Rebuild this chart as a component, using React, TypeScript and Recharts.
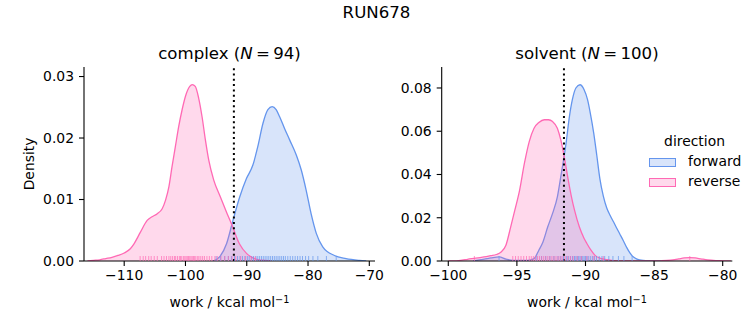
import React from 'react';
import { ComposedChart, Area, Scatter, XAxis, YAxis, ReferenceLine } from 'recharts';

const FONT = "'DejaVu Sans', sans-serif";
const BLUE = '#6495ED';
const PINK = '#FF69B4';

// ---- complex panel ----
const complexFwdX = [-95.5, -94.4, -93.3, -92.25, -91.15, -90.05, -89, -88.2, -87.35, -86.55, -85.85, -85.2, -84.65, -83.85, -83, -81.9, -81.1, -80.3, -79.5, -78.65, -77.6, -75.7, -73.8, -71.6, -70.5];
const complexFwdY = [0, 0.0007, 0.0028, 0.0066, 0.0104, 0.0134, 0.0156, 0.0186, 0.0224, 0.0246, 0.0251, 0.0246, 0.0235, 0.0216, 0.0197, 0.0172, 0.0148, 0.0115, 0.0077, 0.0045, 0.0023, 0.0009, 0.0004, 0.0001, 0];
const complexRevX = [-116, -115, -114, -113, -112, -111, -110, -109, -108.4, -107.35, -106.25, -105.45, -104.6, -103.8, -103.25, -102.7, -102.2, -101.65, -101.1, -100.55, -100, -99.3, -98.9, -98.4, -97.85, -97.3, -96.75, -96.2, -95.4, -94.3, -93.2, -92.4, -91.2, -90, -89, -88, -87, -86];
const complexRevY = [0, 0.0001, 0.0002, 0.0004, 0.0006, 0.0009, 0.0013, 0.002, 0.0028, 0.0047, 0.0066, 0.0072, 0.0077, 0.0085, 0.0099, 0.0121, 0.0153, 0.0186, 0.0219, 0.0246, 0.0268, 0.0284, 0.0287, 0.0284, 0.0265, 0.0235, 0.0197, 0.0164, 0.0132, 0.0104, 0.0077, 0.0058, 0.0028, 0.0012, 0.0005, 0.0002, 0.0001, 0];
const complexFwdRug = [-95.0, -94.3, -93.6, -93.0, -92.5, -92.0, -91.5, -91.1, -90.7, -90.3, -89.9, -89.6, -89.2, -88.9, -88.5, -88.2, -87.9, -87.6, -87.3, -87.0, -86.7, -86.4, -86.1, -85.8, -85.5, -85.2, -84.9, -84.6, -84.3, -84.0, -83.7, -83.3, -82.9, -82.5, -82.1, -81.7, -81.3, -80.9, -80.4, -79.9, -79.2, -78.4, -77.0, -75.4];
const complexRevRug = [-107.4, -106.9, -106.5, -106.0, -105.6, -105.1, -104.6, -103.9, -103.5, -103.1, -102.7, -102.4, -102.1, -101.8, -101.6, -101.3, -101.0, -100.8, -100.6, -100.3, -100.1, -99.9, -99.7, -99.5, -99.3, -99.1, -98.9, -98.7, -98.5, -98.3, -98.0, -97.8, -97.5, -97.2, -96.9, -96.5, -96.1, -95.7, -95.2, -94.8, -94.2, -93.6, -93.0, -92.4, -91.8, -91.0, -90.2, -89.3, -88.6];
const complexXTicks = [-110, -100, -90, -80, -70];
const complexYTicks = [0, 0.01, 0.02, 0.03];
const complexMean = -92.1;

// ---- solvent panel ----
const solventFwdX = [-98.2, -97.6, -96.9, -96.3, -95.8, -95.3, -94.2, -93.75, -93.4, -93.1, -92.75, -92.4, -92.05, -91.8, -91.6, -91.4, -91.2, -90.95, -90.7, -90.4, -90.1, -89.85, -89.65, -89.4, -89.18, -88.95, -88.7, -88.45, -88.2, -87.95, -87.75, -87.5, -87.25, -87.0, -86.75, -86.5, -86.25, -85.8, -85.2, -84.5];
const solventFwdY = [0, 0.0006, 0.0014, 0.0019, 0.0009, 0.0003, 0.0003, 0.0011, 0.005, 0.0088, 0.0158, 0.022, 0.0297, 0.039, 0.0467, 0.0552, 0.0655, 0.0748, 0.08, 0.0815, 0.0792, 0.0746, 0.0684, 0.0591, 0.049, 0.038, 0.03, 0.0245, 0.021, 0.018, 0.0155, 0.0125, 0.0095, 0.0063, 0.0036, 0.0018, 0.0009, 0.0003, 0.0001, 0];
const solventRevX = [-100, -99.6, -99.0, -98.6, -98.0, -97.4, -96.9, -96.5, -96.15, -95.8, -95.45, -95.15, -94.8, -94.45, -94.1, -93.75, -93.4, -93.0, -92.7, -92.4, -92.05, -91.8, -91.55, -91.3, -91.05, -90.8, -90.45, -90.1, -89.9, -89.6, -89.3, -88.9, -88.45, -88.0, -87, -86, -85, -84.5, -83.8, -83.2, -82.8, -82.4, -82.0, -81.6, -81.1, -80.5, -80, -79.4];
const solventRevY = [0, 0, 0.0004, 0.0008, 0.0013, 0.0019, 0.0025, 0.003, 0.0042, 0.0073, 0.0158, 0.0235, 0.0328, 0.0452, 0.0552, 0.0614, 0.064, 0.0653, 0.0653, 0.0645, 0.0614, 0.056, 0.0483, 0.039, 0.0305, 0.0235, 0.0158, 0.0104, 0.0081, 0.005, 0.0026, 0.0012, 0.0006, 0.0002, 0, 0, 0, 0.0001, 0.0004, 0.001, 0.0014, 0.0016, 0.0014, 0.001, 0.0005, 0.0002, 0.0001, 0];
const solventFwdRug = [-96.3, -93.6, -93.2, -92.9, -92.6, -92.3, -92.0, -91.8, -91.6, -91.4, -91.25, -91.1, -90.95, -90.8, -90.7, -90.6, -90.5, -90.4, -90.3, -90.2, -90.1, -90.0, -89.9, -89.8, -89.65, -89.5, -89.35, -89.2, -89.0, -88.8, -88.6, -88.3, -88.0, -87.6, -87.2, -86.6];
const solventRevRug = [-98.1, -95.3, -95.1, -94.9, -94.7, -94.5, -94.3, -94.1, -93.95, -93.8, -93.65, -93.5, -93.35, -93.2, -93.05, -92.9, -92.75, -92.6, -92.45, -92.3, -92.15, -92.0, -91.85, -91.7, -91.5, -91.3, -91.1, -90.9, -90.6, -90.3, -89.9, -89.4, -88.7, -82.4];
const solventXTicks = [-100, -95, -90, -85, -80];
const solventYTicks = [0, 0.02, 0.04, 0.06, 0.08];
const solventMean = -91.57;

function mergeTable(fx: number[], fy: number[], rx: number[], ry: number[]) {
  const map = new Map<number, any>();
  fx.forEach((x, i) => { const r = map.get(x) || { x }; r.fwd = fy[i]; map.set(x, r); });
  rx.forEach((x, i) => { const r = map.get(x) || { x }; r.rev = ry[i]; map.set(x, r); });
  return Array.from(map.values()).sort((a, b) => a.x - b.x);
}
const rugData = (vals: number[]) => vals.map((v) => ({ x: v, y: 0 }));

const fmtX = (v: number) => String(v).replace('-', '\u2212');
const fmtY = (v: number) => v.toFixed(2);

const makeRug = (color: string) => (props: any) => {
  const { cx, cy } = props;
  if (cx == null || cy == null) return <g />;
  return <line x1={cx} x2={cx} y1={cy} y2={cy - 5} stroke={color} strokeWidth={1} strokeOpacity={0.7} />;
};

const tickStyle = { fill: '#000', fontSize: 13.9, fontFamily: FONT };

function Panel(props: {
  table: any[]; fwdRug: number[]; revRug: number[]; xDomain: [number, number]; yMax: number;
  xTicks: number[]; yTicks: number[]; mean: number; width: number; margin: any;
}) {
  const { table, fwdRug, revRug, xDomain, yMax, xTicks, yTicks, mean, width, margin } = props;
  return (
    <ComposedChart width={width} height={325} data={table} margin={margin}>
      <XAxis type="number" dataKey="x" domain={xDomain} allowDataOverflow ticks={xTicks}
        tickFormatter={fmtX} tick={tickStyle} tickSize={5} tickMargin={4} height={30}
        axisLine={{ stroke: '#000', strokeWidth: 1.1 }} tickLine={{ stroke: '#000', strokeWidth: 1.1 }} />
      <YAxis type="number" domain={[0, yMax]} allowDataOverflow ticks={yTicks} tickFormatter={fmtY}
        tick={tickStyle} tickSize={5} tickMargin={5} width={50}
        axisLine={{ stroke: '#000', strokeWidth: 1.1 }} tickLine={{ stroke: '#000', strokeWidth: 1.1 }} />
      <Area type="monotone" dataKey="fwd" connectNulls isAnimationActive={false} stroke={BLUE} strokeWidth={1.3}
        fill={BLUE} fillOpacity={0.25} dot={false} activeDot={false} />
      <Area type="monotone" dataKey="rev" connectNulls isAnimationActive={false} stroke={PINK} strokeWidth={1.3}
        fill={PINK} fillOpacity={0.25} dot={false} activeDot={false} />
      <Scatter data={rugData(fwdRug)} dataKey="y" isAnimationActive={false} shape={makeRug(BLUE)} />
      <Scatter data={rugData(revRug)} dataKey="y" isAnimationActive={false} shape={makeRug(PINK)} />
      <ReferenceLine x={mean} stroke="#000" strokeWidth={2} strokeDasharray="2 3.3" />
    </ComposedChart>
  );
}

const abs = (left: number, top: number, extra: any = {}) => ({
  position: 'absolute' as const, left, top, fontFamily: FONT, lineHeight: 1, whiteSpace: 'nowrap' as const, color: '#000', ...extra,
});

function Centered({ cx, top, size, children }: any) {
  return <div style={abs(cx - 150, top, { width: 300, textAlign: 'center', fontSize: size })}>{children}</div>;
}

export default function App() {
  const complexTable = mergeTable(complexFwdX, complexFwdY, complexRevX, complexRevY);
  const solventTable = mergeTable(solventFwdX, solventFwdY, solventRevX, solventRevY);
  return (
    <div style={{ position: 'absolute', left: 0, top: 0, width: 753, height: 325, background: '#fff', overflow: 'hidden' }}>
      <div style={{ position: 'absolute', left: 0, top: 0 }}>
        <Panel table={complexTable} fwdRug={complexFwdRug} revRug={complexRevRug} xDomain={[-116.56, -69.07]}
          yMax={0.03155} xTicks={complexXTicks} yTicks={complexYTicks} mean={complexMean} width={400}
          margin={{ top: 67, right: 25, bottom: 34, left: 34 }} />
      </div>
      <div style={{ position: 'absolute', left: 380, top: 0 }}>
        <Panel table={solventTable} fwdRug={solventFwdRug} revRug={solventRevRug} xDomain={[-100.48, -79.3]}
          yMax={0.0897} xTicks={solventXTicks} yTicks={solventYTicks} mean={solventMean} width={373}
          margin={{ top: 67, right: 20.7, bottom: 34, left: 11.7 }} />
      </div>

      <Centered cx={376.5} top={5} size={16.6}>RUN678</Centered>
      <Centered cx={229.5} top={45.5} size={16.6}>complex (<i>N</i>&thinsp;=&thinsp;94)</Centered>
      <Centered cx={587} top={45.5} size={16.6}>solvent (<i>N</i>&thinsp;=&thinsp;100)</Centered>
      <Centered cx={229.5} top={294.7} size={13.9}>work / kcal mol<sup style={{ fontSize: '0.7em', verticalAlign: '0.45em' }}>{'\u22121'}</sup></Centered>
      <Centered cx={587} top={294.7} size={13.9}>work / kcal mol<sup style={{ fontSize: '0.7em', verticalAlign: '0.45em' }}>{'\u22121'}</sup></Centered>
      <div style={abs(30.3 - 50, 164 - 6.95, { width: 100, textAlign: 'center', fontSize: 13.9, transform: 'rotate(-90deg)' })}>Density</div>

      {/* legend */}
      <Centered cx={694.5} top={134.9} size={13.9}>direction</Centered>
      <div style={abs(649.3, 157.7, { width: 26.7, height: 9.3, boxSizing: 'border-box', border: `1.2px solid ${BLUE}`, background: 'rgba(100,149,237,0.25)' })} />
      <div style={abs(649.3, 177.7, { width: 26.7, height: 9.3, boxSizing: 'border-box', border: `1.2px solid ${PINK}`, background: 'rgba(255,105,180,0.25)' })} />
      <div style={abs(688, 154.9, { fontSize: 13.9 })}>forward</div>
      <div style={abs(688, 174.9, { fontSize: 13.9 })}>reverse</div>
    </div>
  );
}
